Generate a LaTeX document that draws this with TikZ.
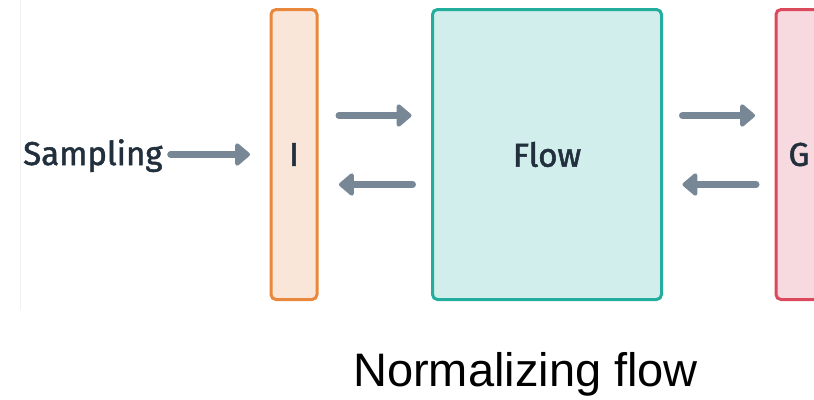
\documentclass[tikz,border=0pt]{standalone}
\usepackage{fontspec}
\setmainfont{Liberation Sans}
\newfontfamily\dinfont[FakeBold=1.6]{Fira Sans}
\usetikzlibrary{arrows.meta}
\definecolor{inkdark}{HTML}{22303D}
\definecolor{arrowgray}{HTML}{788796}
\definecolor{orangeline}{HTML}{E9883C}
\definecolor{orangefill}{HTML}{FAE5D9}
\definecolor{tealline}{HTML}{22AD9C}
\definecolor{tealfill}{HTML}{D1EEEC}
\definecolor{redline}{HTML}{DB4A5C}
\definecolor{redfill}{HTML}{F7DADF}
\tikzset{
  block/.style={draw, line width=3pt, rounded corners=5pt, inner sep=0pt,
    outer sep=0pt, minimum height=290pt, text=inkdark,
    font=\dinfont\fontsize{33}{33}\selectfont},
  label/.style={inner sep=0pt, text=inkdark, font=\dinfont\fontsize{33}{33}\selectfont},
  flowarrow/.style={draw=arrowgray, line width=7pt, line cap=round,
    -{Triangle[length=16pt, width=26pt, round]}},
}
\begin{document}
\begin{tikzpicture}[x=1pt, y=-1pt]
  \useasboundingbox (0,0) rectangle (814,399);
  \clip (0,0) rectangle (814,399);
  % thin page edge on the left
  \draw[black!6, line width=0.8pt] (20.5,0) -- (20.5,310);

  % the three stages
  \node[block, draw=orangeline, fill=orangefill, minimum width=46pt] (I) at (294,154.5) {I};
  \node[block, draw=tealline, fill=tealfill, minimum width=229pt] (F) at (547,154.5) {Flow};
  \node[block, draw=redline, fill=redfill, minimum width=46pt] (G) at (799,154.5) {G};

  % input text
  \node[label, anchor=base west] (S) at (23,165) {Sampling};

  % connectors
  \draw[flowarrow, shorten <=8pt, shorten >=21pt] (S.east |- I.west) -- (I.west);
  \draw[flowarrow, shorten <=22pt, shorten >=21pt] ([yshift=39pt]I.east) -- ([yshift=39pt]F.west);
  \draw[flowarrow, shorten <=20pt, shorten >=22pt] ([yshift=-30pt]F.west) -- ([yshift=-30pt]I.east);
  \draw[flowarrow, shorten <=21pt, shorten >=21pt] ([yshift=39pt]F.east) -- ([yshift=39pt]G.west);
  \draw[flowarrow, shorten <=20pt, shorten >=21pt] ([yshift=-30pt]G.west) -- ([yshift=-30pt]F.east);

  % caption
  \node[inner sep=0pt, anchor=base west, font=\fontsize{47}{47}\selectfont] (cap) at (353,386) {Normalizing flow};
\end{tikzpicture}
\end{document}
